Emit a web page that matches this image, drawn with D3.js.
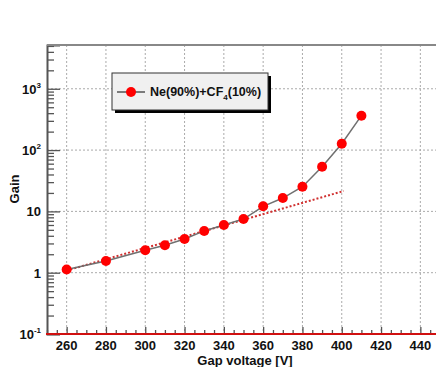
<!DOCTYPE html>
<html><head><meta charset="utf-8">
<script src="https://cdn.jsdelivr.net/npm/d3@7"></script>
<style>body{margin:0;background:#fff}svg{display:block}text{font-family:"Liberation Sans",Arial,sans-serif;font-weight:bold;fill:#111}</style>
</head><body>
<script>
const voltages = [260, 280, 300, 310, 320, 330, 340, 350, 360, 370, 380, 390, 400, 410];
const gains    = [1.13, 1.55, 2.32, 2.8, 3.55, 4.8, 6.0, 7.5, 12.1, 16.5, 25.3, 53.6, 127, 364];
const fitX = [258, 401];
const fitY = [1.04, 21.5];
const xTicks = [260, 280, 300, 320, 340, 360, 380, 400, 420, 440];
const yDecades = [0.1, 1, 10, 100, 1000];
const yLabels = [["10","-1"], ["1",""], ["10",""], ["10","2"], ["10","3"]];
const legendLabel = ["Ne(90%)+CF", "4", "(10%)"];

const W = 436, H = 367;
const L = 47, T = 45, B = 334;
const svg = d3.select("body").append("svg").attr("width", W).attr("height", H);
const x = d3.scaleLinear().domain([250, 450]).range([L, 440]);
const y = d3.scaleLog().domain([0.1, Math.pow(10, 3.714)]).range([B, T]);

// grid
const grid = svg.append("g").attr("stroke", "#aaa").attr("stroke-width", 1).attr("stroke-dasharray", "2,2");
grid.selectAll("line.gx").data(xTicks).join("line").attr("class","gx")
  .attr("x1", d => x(d)).attr("x2", d => x(d)).attr("y1", T).attr("y2", B);
grid.selectAll("line.gy").data(yDecades.slice(1)).join("line").attr("class","gy")
  .attr("x1", L).attr("x2", W).attr("y1", d => y(d)).attr("y2", d => y(d));

// y axis (ticks inward)
const yMinor = [];
for (let e = -1; e <= 3; e++) for (let k = 2; k <= 9; k++) { const v = k * Math.pow(10, e); if (v <= y.domain()[1]) yMinor.push(v); }
const yAxis = svg.append("g").attr("transform", `translate(${L},0)`)
  .call(d3.axisRight(y).tickValues(yDecades).tickSize(13).tickFormat(""));
svg.append("g").attr("transform", `translate(${L},0)`)
  .call(d3.axisRight(y).tickValues(yMinor).tickSize(7).tickFormat(""))
  .call(g => g.select(".domain").remove());
svg.selectAll("g .tick line").attr("stroke", "#555").attr("stroke-width", 1.3);
yAxis.select(".domain").attr("stroke", "#555").attr("stroke-width", 2);

// x axis (ticks inward)
const xMinor = d3.range(250, 451, 5).filter(v => v % 20 !== 0);
const xAxis = svg.append("g").attr("transform", `translate(0,${B})`)
  .call(d3.axisTop(x).tickValues(xTicks).tickSize(7).tickFormat(""));
svg.append("g").attr("transform", `translate(0,${B})`)
  .call(d3.axisTop(x).tickValues(xMinor).tickSize(4).tickFormat(""))
  .call(g => g.select(".domain").remove());
svg.selectAll("g .tick line").attr("stroke", "#555").attr("stroke-width", 1.3);
xAxis.select(".domain").remove();

// top frame line
svg.append("line").attr("x1", L).attr("x2", W).attr("y1", T).attr("y2", T).attr("stroke", "#888").attr("stroke-width", 2);
// bottom red line
svg.append("line").attr("x1", L - 1).attr("x2", W).attr("y1", B).attr("y2", B).attr("stroke", "#d01010").attr("stroke-width", 2);

// x tick labels
svg.selectAll("text.xl").data(xTicks).join("text").attr("class","xl")
  .attr("x", d => x(d)).attr("y", 350).attr("text-anchor", "middle").attr("font-size", 13).text(d => d);
// y tick labels
const yl = svg.selectAll("text.yl").data(yDecades).join("text").attr("class","yl")
  .attr("x", 41).attr("y", d => y(d) + 5).attr("text-anchor", "end").attr("font-size", 13);
yl.each(function(d, i) {
  const t = d3.select(this);
  t.append("tspan").text(yLabels[i][0]);
  if (yLabels[i][1]) t.append("tspan").attr("dy", -6).attr("font-size", 8).text(yLabels[i][1]);
});
// axis titles
svg.append("text").attr("x", 245).attr("y", 365).attr("text-anchor", "middle").attr("font-size", 13).text("Gap voltage [V]");
svg.append("text").attr("transform", "translate(19,189) rotate(-90)").attr("text-anchor", "middle").attr("font-size", 13).text("Gain");

// fit (dotted red)
svg.append("path").datum(fitX.map((v, i) => [v, fitY[i]]))
  .attr("d", d3.line().x(d => x(d[0])).y(d => y(d[1])))
  .attr("fill", "none").attr("stroke", "#d03030").attr("stroke-width", 2).attr("stroke-dasharray", "2,2");

// data line + markers
const pts = voltages.map((v, i) => [v, gains[i]]);
svg.append("path").datum(pts).attr("d", d3.line().x(d => x(d[0])).y(d => y(d[1])))
  .attr("fill", "none").attr("stroke", "#707070").attr("stroke-width", 1.5);
svg.selectAll("circle.pt").data(pts).join("circle").attr("class","pt")
  .attr("cx", d => x(d[0])).attr("cy", d => y(d[1])).attr("r", 5).attr("fill", "#ff0000");

// legend
const lg = svg.append("g");
lg.append("rect").attr("x", 115).attr("y", 76).attr("width", 156).attr("height", 37).attr("fill", "#000");
lg.append("rect").attr("x", 112).attr("y", 73).attr("width", 156).attr("height", 37).attr("fill", "#f0f0f0").attr("stroke", "#333").attr("stroke-width", 1);
lg.append("line").attr("x1", 117).attr("x2", 145).attr("y1", 92).attr("y2", 92).attr("stroke", "#555").attr("stroke-width", 1.5);
lg.append("circle").attr("cx", 131).attr("cy", 92).attr("r", 5).attr("fill", "#ff0000");
const lt = lg.append("text").attr("x", 150).attr("y", 96).attr("font-size", 12.5);
lt.append("tspan").text(legendLabel[0]);
lt.append("tspan").attr("dy", 4).attr("font-size", 8).text(legendLabel[1]);
lt.append("tspan").attr("dy", -4).text(legendLabel[2]);
</script>
</body></html>
